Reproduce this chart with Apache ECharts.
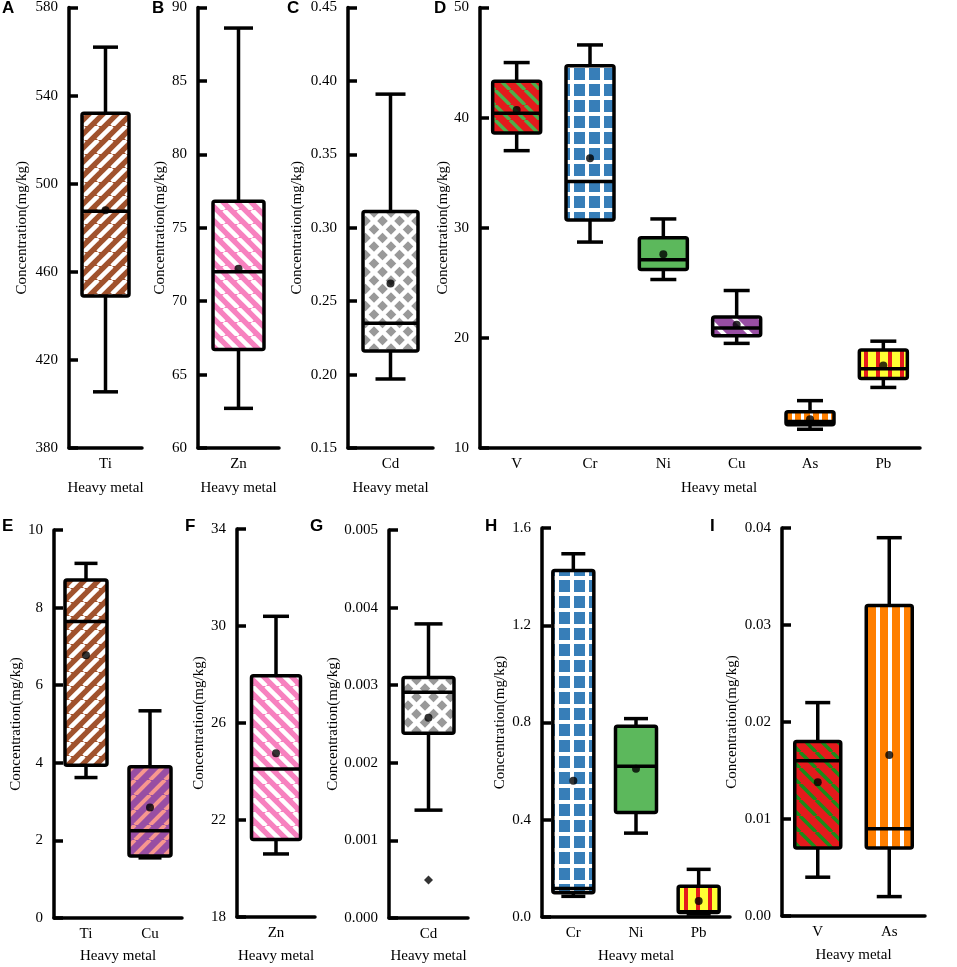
<!DOCTYPE html>
<html lang="en">
<head>
<meta charset="UTF-8">
<title>Heavy metal concentration</title>
<script src="https://cdn.jsdelivr.net/npm/echarts@6/dist/echarts.min.js"></script>
<style>
    html, body { margin: 0; padding: 0; background: #fff; }
    #chart { width: 957px; height: 967px; }
</style>
</head>
<body>
<div id="chart"></div>
<script>
// box data: [min, Q1, median, Q3, max] ; mean separately
const catsA = ['Ti'];
const boxA = [[405.5, 449, 487.5, 532, 562]];
const meanA = [488];

const catsB = ['Zn'];
const boxB = [[62.7, 66.7, 72.0, 76.8, 88.6]];
const meanB = [72.2];

const catsC = ['Cd'];
const boxC = [[0.197, 0.216, 0.235, 0.311, 0.391]];
const meanC = [0.262];

const catsD = ['V', 'Cr', 'Ni', 'Cu', 'As', 'Pb'];
const boxD = [
    [37.0, 38.6, 40.4, 43.3, 45.0],
    [28.7, 30.7, 34.2, 44.7, 46.6],
    [25.3, 26.2, 27.1, 29.1, 30.8],
    [19.5, 20.2, 20.9, 21.9, 24.3],
    [11.7, 12.1, 12.4, 13.3, 14.3],
    [15.5, 16.3, 17.2, 18.9, 19.7]
];
const meanD = [40.7, 36.3, 27.6, 21.2, 12.6, 17.5];

const catsE = ['Ti', 'Cu'];
const boxE = [[3.62, 3.94, 7.64, 8.71, 9.14], [1.55, 1.6, 2.25, 3.9, 5.34]];
const meanE = [6.77, 2.85];

const catsF = ['Zn'];
const boxF = [[20.6, 21.2, 24.1, 27.95, 30.4]];
const meanF = [24.75];

const catsG = ['Cd'];
const boxG = [[0.00139, 0.00238, 0.00291, 0.0031, 0.00379]];
const meanG = [0.00258];
const outlierG = [0.00049];

const catsH = ['Cr', 'Ni', 'Pb'];
const boxH = [[0.085, 0.10, 0.117, 1.425, 1.494], [0.345, 0.43, 0.62, 0.785, 0.816], [0.012, 0.018, 0.022, 0.126, 0.196]];
const meanH = [0.56, 0.61, 0.066];

const catsI = ['V', 'As'];
const boxI = [[0.004, 0.007, 0.016, 0.018, 0.022], [0.002, 0.007, 0.009, 0.032, 0.039]];
const meanI = [0.0138, 0.0166];

// ---- fill patterns ----
function tile(w, h, bg, draw) {
    const c = document.createElement('canvas');
    c.width = w; c.height = h;
    const ctx = c.getContext('2d');
    ctx.fillStyle = bg;
    ctx.fillRect(0, 0, w, h);
    if (draw) draw(ctx);
    return { image: c, repeat: 'repeat' };
}
function diagLines(ctx, s, fg, lw, dir) {
    ctx.strokeStyle = fg;
    ctx.lineWidth = lw;
    for (let k = -1; k <= 1; k++) {
        ctx.beginPath();
        if (dir === '/') { ctx.moveTo(k * s, s); ctx.lineTo(k * s + s, 0); }
        else { ctx.moveTo(k * s, 0); ctx.lineTo(k * s + s, s); }
        ctx.stroke();
    }
}
function diag(bg, fg, s, lw, dir) {
    return tile(s, s, bg, ctx => diagLines(ctx, s, fg, lw, dir));
}
function cross(bg, fg, s, lw) {
    return tile(s, s, bg, ctx => { diagLines(ctx, s, fg, lw, '/'); diagLines(ctx, s, fg, lw, '\\'); });
}
function vstripes(bg, fg, s, lw) {
    return tile(s, 4, bg, ctx => { ctx.fillStyle = fg; ctx.fillRect(0, 0, lw, 4); });
}
function squares(bg, fg, w, h, sw, sh) {
    return tile(w, h, bg, ctx => { ctx.fillStyle = fg; ctx.fillRect(w - sw, h - sh, sw, sh); });
}

const fillTi = diag('#a0522d', '#ffffff', 14, 4.5, '/');
const fillZn = diag('#f781bf', '#ffffff', 14, 4.5, '\\');
const fillCd = cross('#999999', '#ffffff', 17, 4.5);
const fillV = diag('#e41a1c', '#4daf4a', 15, 3.5, '\\');
const fillV2 = diag('#e41a1c', '#1a8c1a', 16, 3.5, '\\');
const fillCr = squares('#ffffff', '#377eb8', 15, 16, 11, 12);
const fillNi = '#5cb85c';
const fillCu = diag('#984ea3', '#ffffff', 26, 4, '\\');
const fillCu2 = diag('#984ea3', '#f7978f', 15, 4, '/');
const fillAs = vstripes('#ff7f00', '#ffffff', 9, 3);
const fillAs2 = vstripes('#ff7f00', '#ffffff', 12, 4);
const fillPb = vstripes('#ffff33', '#e41a1c', 12, 4);

// ---- panels: grid geometry and axis setup ----
const serif = 'Liberation Serif, Times New Roman, serif';
const LW = 3.5;
const panels = [
    { id: 'A', cats: catsA, box: boxA, mean: meanA, fills: [fillTi], grid: [69, 7, 73, 441], y: [380, 580, 40, 0], nameGap: 39, boxW: 47, capW: 25, xGap: 33, letter: [2, 8] },
    { id: 'B', cats: catsB, box: boxB, mean: meanB, fills: [fillZn], grid: [198, 7, 81, 441], y: [60, 90, 5, 0], nameGap: 30, boxW: 51, capW: 29, xGap: 33, letter: [152, 8] },
    { id: 'C', cats: catsC, box: boxC, mean: meanC, fills: [fillCd], grid: [348, 7, 85, 441], y: [0.15, 0.45, 0.05, 2], nameGap: 43, boxW: 55, capW: 30, xGap: 33, letter: [287, 8] },
    { id: 'D', cats: catsD, box: boxD, mean: meanD, fills: [fillV, fillCr, fillNi, fillCu, fillAs, fillPb], grid: [480, 7, 440, 441], y: [10, 50, 10, 0], nameGap: 29, boxW: 48, capW: 26, xGap: 33, xShift: 38, letter: [434, 8] },
    { id: 'E', cats: catsE, box: boxE, mean: meanE, fills: [fillTi, fillCu2], grid: [54, 530, 128, 388], y: [0, 10, 2, 0], nameGap: 30, boxW: 42, capW: 23, xGap: 31, letter: [2, 526] },
    { id: 'F', cats: catsF, box: boxF, mean: meanF, fills: [fillZn], grid: [237, 529, 78, 388], y: [18, 34, 4, 0], nameGap: 30, boxW: 49, capW: 26, xGap: 32, letter: [185, 526] },
    { id: 'G', cats: catsG, box: boxG, mean: meanG, fills: [fillCd], grid: [389, 530, 79, 388], y: [0, 0.005, 0.001, 3], nameGap: 48, boxW: 51, capW: 28, xGap: 31, letter: [310, 526] },
    { id: 'H', cats: catsH, box: boxH, mean: meanH, fills: [fillCr, fillNi, fillPb], grid: [542, 528, 188, 389], y: [0, 1.6, 0.4, 1], nameGap: 34, boxW: 41, capW: 24, xGap: 32, letter: [485, 526] },
    { id: 'I', cats: catsI, box: boxI, mean: meanI, fills: [fillV2, fillAs2], grid: [782, 528, 143, 388], y: [0, 0.04, 0.01, 2], nameGap: 42, boxW: 46, capW: 25, xGap: 32, letter: [710, 526] }
];

function boxRenderer(p) {
    return function (params, api) {
        const i = api.value(0);
        const pts = [1, 2, 3, 4, 5].map(d => api.coord([i, api.value(d)]));
        const x = pts[0][0];
        const y = pts.map(pt => pt[1]);
        const ln = { stroke: '#000', lineWidth: LW };
        const hb = p.boxW / 2, hc = p.capW / 2;
        return {
            type: 'group',
            children: [
                { type: 'line', shape: { x1: x, y1: y[0], x2: x, y2: y[1] }, style: ln },
                { type: 'line', shape: { x1: x, y1: y[3], x2: x, y2: y[4] }, style: ln },
                { type: 'line', shape: { x1: x - hc, y1: y[0], x2: x + hc, y2: y[0] }, style: ln },
                { type: 'line', shape: { x1: x - hc, y1: y[4], x2: x + hc, y2: y[4] }, style: ln },
                { type: 'rect', shape: { x: x - hb, y: y[3], width: p.boxW, height: y[1] - y[3], r: 2 },
                  style: { fill: p.fills[params.dataIndex], stroke: '#000', lineWidth: LW } },
                { type: 'line', shape: { x1: x - hb, y1: y[2], x2: x + hb, y2: y[2] }, style: ln }
            ]
        };
    };
}

const grids = [], xAxes = [], yAxes = [], series = [], graphics = [];
panels.forEach((p, k) => {
    grids.push({ left: p.grid[0], top: p.grid[1], width: p.grid[2], height: p.grid[3] });
    xAxes.push({
        type: 'category', gridIndex: k, data: p.cats,
        name: 'Heavy metal', nameLocation: 'middle', nameGap: p.xGap,
        nameTextStyle: { fontFamily: serif, fontSize: 15, color: '#000', padding: [0, 0, 0, p.xShift || 0] },
        axisLine: { lineStyle: { color: '#000', width: LW } },
        axisTick: { inside: true, alignWithLabel: true, length: 8, lineStyle: { color: '#000', width: LW } },
        axisLabel: { fontFamily: serif, fontSize: 15, color: '#000', margin: 9 },
        splitLine: { show: false }
    });
    const dec = p.y[3];
    yAxes.push({
        type: 'value', gridIndex: k, min: p.y[0], max: p.y[1], interval: p.y[2],
        name: 'Concentration(mg/kg)', nameLocation: 'middle', nameGap: p.nameGap, nameMoveOverlap: false,
        nameTextStyle: { fontFamily: serif, fontSize: 15, color: '#000' },
        axisLine: { show: true, lineStyle: { color: '#000', width: LW } },
        axisTick: { show: true, inside: true, length: 9, lineStyle: { color: '#000', width: LW } },
        axisLabel: { fontFamily: serif, fontSize: 15, color: '#000', margin: 11,
                     formatter: v => Number(v).toFixed(dec) },
        splitLine: { show: false }
    });
    series.push({
        type: 'custom', xAxisIndex: k, yAxisIndex: k, z: 2,
        renderItem: boxRenderer(p),
        encode: { x: 0, y: [1, 2, 3, 4, 5] },
        data: p.box.map((b, i) => [i].concat(b))
    });
    series.push({
        type: 'scatter', xAxisIndex: k, yAxisIndex: k, z: 3,
        symbol: 'circle', symbolSize: 8, itemStyle: { color: '#000' },
        data: p.mean.map((m, i) => [i, m])
    });
    graphics.push({
        type: 'text', left: p.letter[0], top: p.letter[1] - 8,
        style: { text: p.id, font: 'bold 17px Liberation Sans, Arial, sans-serif', fill: '#000' }
    });
});

// outlier in G
series.push({
    type: 'scatter', xAxisIndex: 6, yAxisIndex: 6, z: 3,
    symbol: 'diamond', symbolSize: 9, itemStyle: { color: '#000' },
    data: outlierG.map(v => [0, v])
});

const chart = echarts.init(document.getElementById('chart'));
chart.setOption({
    animation: false,
    backgroundColor: '#fff',
    grid: grids,
    xAxis: xAxes,
    yAxis: yAxes,
    series: series,
    graphic: graphics
});
</script>
</body>
</html>
